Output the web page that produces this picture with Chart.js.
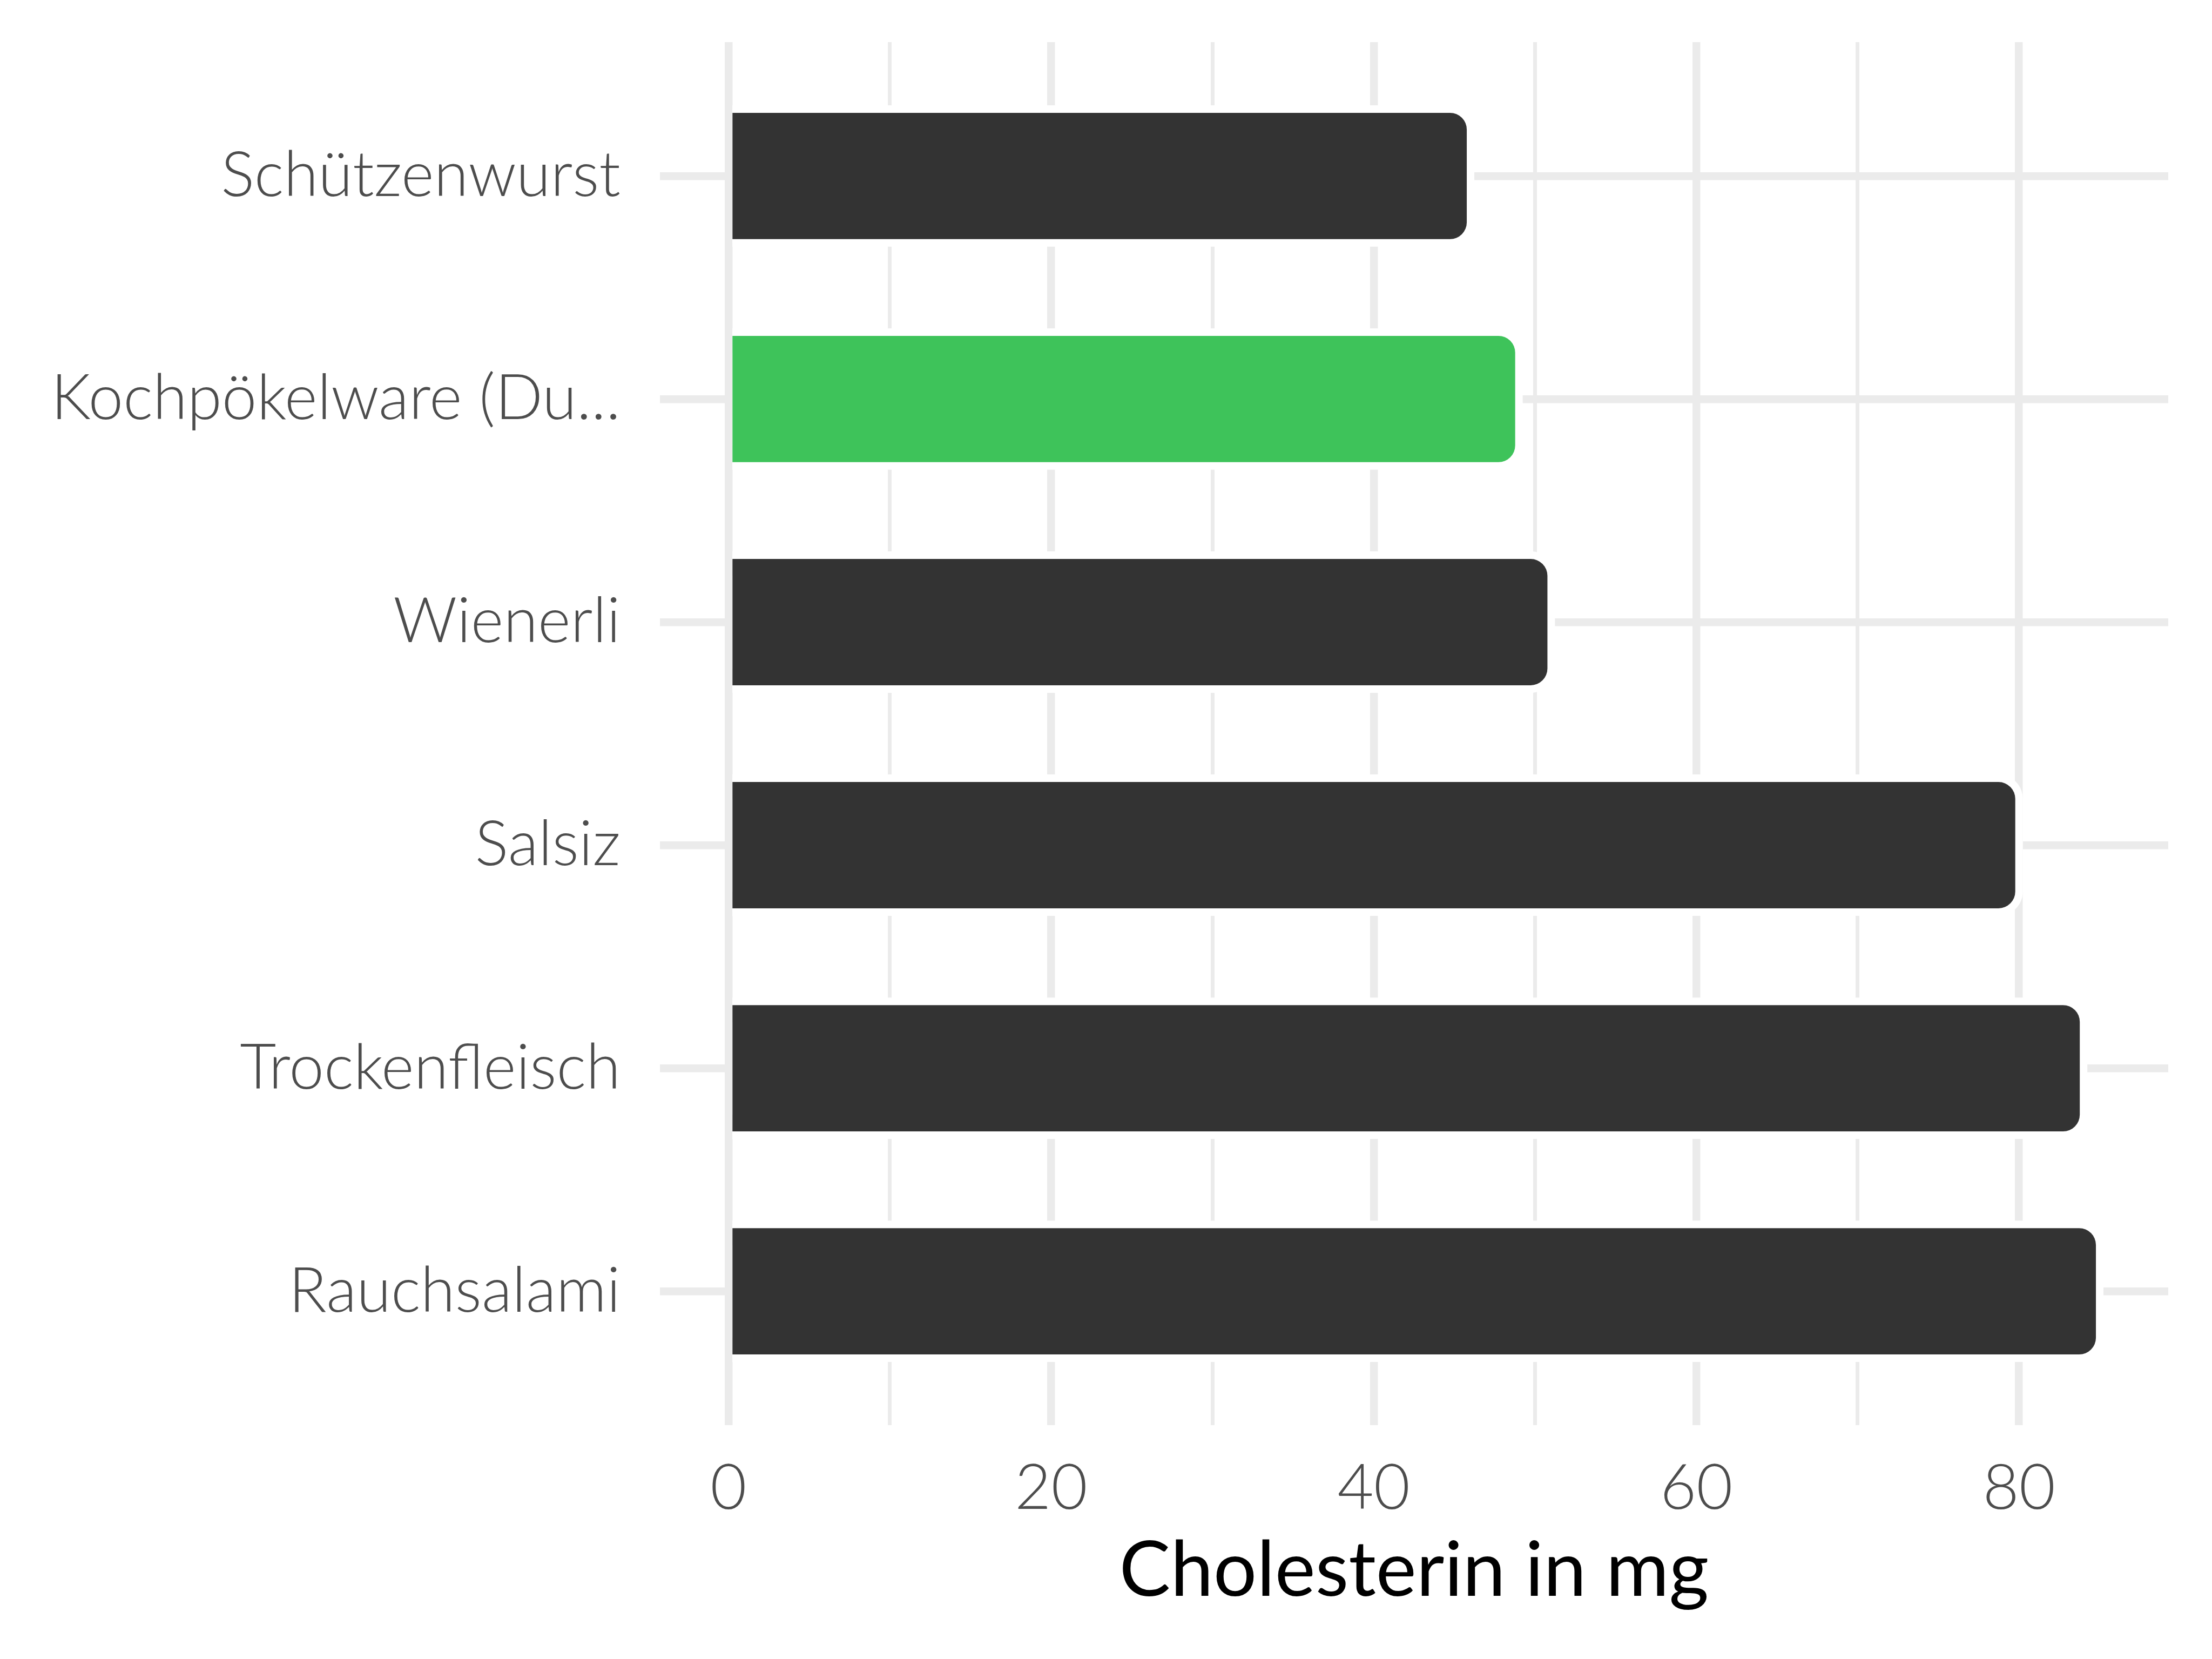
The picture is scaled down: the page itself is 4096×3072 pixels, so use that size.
<!DOCTYPE html>
<html>
<head>
<meta charset="utf-8">
<script src="https://cdn.jsdelivr.net/npm/chart.js@4.4.1/dist/chart.umd.min.js"></script>
<style>
    html, body { margin: 0; padding: 0; background: #ffffff; }
    #wrap { width: 4096px; height: 3072px; }
</style>
</head>
<body>
<div id="wrap"><canvas id="grafica" width="4096" height="3072"></canvas></div>
<script>
// datos
const categorias = [
    "Schützenwurst",
    "Kochpökelware (Du...",
    "Wienerli",
    "Salsiz",
    "Trockenfleisch",
    "Rauchsalami",
];
const valores = [46, 49, 51, 80, 84, 85];
const ticksX = [0, 20, 40, 60, 80];
const destacado = "Kochpökelware (Du...";

const puntos = valores.map((v, i) => ({ x: v, y: i }));

// borde blanco alrededor de cada barra (como el contorno de ggplot)
const halo = {
    id: "halo",
    beforeDatasetsDraw(chart) {
        const ctx = chart.ctx;
        const meta = chart.getDatasetMeta(0);
        ctx.save();
        ctx.fillStyle = "#ffffff";
        meta.data.forEach((bar) => {
            const { x, y, base, height } = bar.getProps(["x", "y", "base", "height"], true);
            const top = y - height / 2 - 7;
            ctx.beginPath();
            ctx.roundRect(base, top, x - base + 7, height + 14, [0, 45, 45, 0]);
            ctx.fill();
        });
        ctx.restore();
    },
};

const ctx = document.getElementById("grafica").getContext("2d");

new Chart(ctx, {
    type: "bar",
    data: {
        datasets: [
            {
                data: puntos,
                backgroundColor: categorias.map((c) =>
                    c === destacado ? "#3EC35A" : "#333333"
                ),
                borderColor: "#ffffff",
                borderWidth: 7,
                borderSkipped: "start",
                borderRadius: 38,
                barPercentage: 0.6,
                categoryPercentage: 1.0,
            },
        ],
    },
    options: {
        indexAxis: "y",
        responsive: false,
        animation: false,
        devicePixelRatio: 1,
        layout: { padding: { left: 0, right: 81, top: 78, bottom: 0 } },
        plugins: {
            legend: { display: false },
            tooltip: { enabled: false },
        },
        scales: {
            x: {
                type: "linear",
                min: -4.25,
                max: 89.25,
                border: { display: false },
                grid: {
                    color: "#EBEBEB",
                    drawTicks: false,
                    lineWidth: (c) => (ticksX.includes(c.tick.value) ? 14.5 : 7),
                },
                ticks: {
                    stepSize: 10,
                    includeBounds: false,
                    padding: 48,
                    color: "#4D4D4D",
                    font: { family: "Lato", weight: 300, size: 116 },
                    callback: (v) => (ticksX.includes(v) ? String(v) : ""),
                },
                title: {
                    display: true,
                    text: "Cholesterin in mg",
                    color: "#000000",
                    font: { family: "Lato", weight: 400, size: 142 },
                    padding: { top: 0, bottom: 78 },
                },
                afterFit: (scale) => {
                    scale.height = 433;
                    scale.paddingLeft = 0;
                    scale.paddingRight = 0;
                },
            },
            y: {
                type: "linear",
                min: -0.6,
                max: 5.6,
                reverse: true,
                offset: false,
                border: { display: false },
                grid: {
                    color: "#EBEBEB",
                    drawTicks: false,
                    offset: false,
                    lineWidth: 14.5,
                },
                ticks: {
                    stepSize: 1,
                    includeBounds: false,
                    padding: 73,
                    color: "#4D4D4D",
                    font: { family: "Lato", weight: 300, size: 116 },
                    callback: (v) => categorias[v] ?? "",
                },
                afterFit: (scale) => {
                    scale.width = 1222;
                    scale.paddingTop = 0;
                    scale.paddingBottom = 0;
                },
            },
        },
    },
    plugins: [halo],
});
</script>
</body>
</html>
